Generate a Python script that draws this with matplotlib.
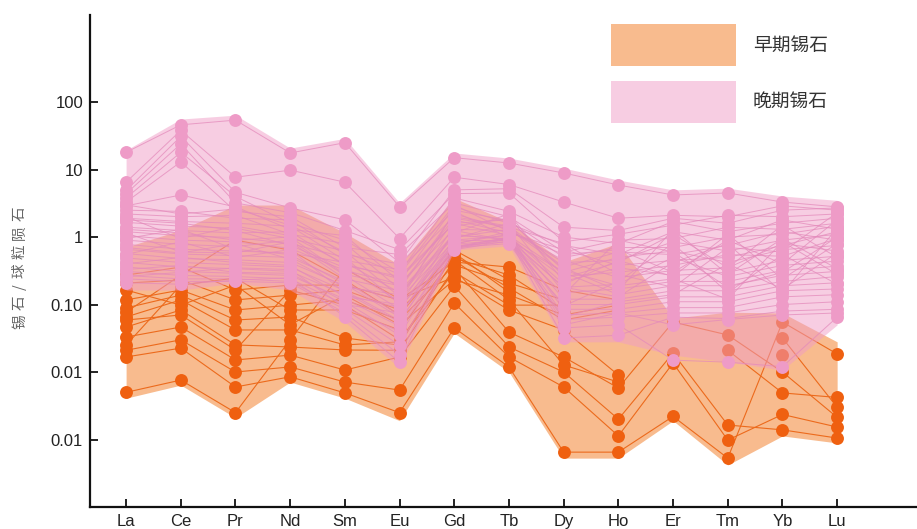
import numpy as np
import matplotlib
matplotlib.use("Agg")
import matplotlib.pyplot as plt
from matplotlib.patches import Rectangle

plt.rcParams['font.family'] = ['Liberation Sans', 'Noto Sans CJK SC', 'DejaVu Sans']

# ---- data -------------------------------------------------------------
elements = ["La", "Ce", "Pr", "Nd", "Sm", "Eu", "Gd", "Tb", "Dy", "Ho",
            "Er", "Tm", "Yb", "Lu"]
y_ticks = [100, 10, 1, 0.1, 0.01, 0.001]
y_tick_labels = ["100", "10", "1", "0.10", "0.01", "0.01"]
legend_labels = ["早期锡石", "晚期锡石"]
y_label = "锡石/球粒陨石"

nan = np.nan
# early cassiterite, chondrite-normalised REE (one row per sample)
early = [
    [0.005, 0.0076, 0.0025, 0.030, 0.34, 0.12, 0.255, 0.083, 0.042, 0.009, nan, 0.021, 0.0049, 0.0042],
    [0.0167, 0.0226, 0.0060, 0.0085, 0.0049, 0.0025, 0.045, 0.0119, 0.00065, 0.00065, 0.0022, 0.00053, 0.055, 0.0185],
    [0.021, 0.030, 0.0100, 0.0119, 0.0071, 0.0054, 0.105, 0.0167, 0.0060, 0.00113, 0.0136, 0.00098, 0.00235, 0.00153],
    [0.033, 0.0464, 0.0151, 0.0178, 0.0107, 0.0167, 0.188, 0.0235, 0.0100, 0.0020, 0.0191, 0.00164, 0.00139, 0.00105],
    [0.0464, 0.083, 0.0252, 0.0235, 0.0212, 0.021, 0.347, 0.039, 0.0167, 0.0058, 0.055, 0.0354, 0.0100, 0.00213],
    [0.0654, 0.117, 0.042, 0.042, 0.0252, 0.028, 0.456, 0.117, 0.0127, 0.0071, nan, nan, 0.032, 0.0030],
    [0.089, 0.138, 0.059, 0.0654, 0.032, 0.025, 0.579, 0.153, nan, nan, nan, nan, 0.0178, nan],
    [0.117, 0.164, 0.083, 0.098, 0.117, 0.059, 0.385, 0.208, 0.117, nan, nan, nan, nan, nan],
    [0.208, 0.231, 0.117, 0.138, 0.164, 0.083, 0.489, 0.273, 0.083, nan, nan, nan, nan, nan],
    [0.273, 0.359, 0.164, 0.194, 0.194, 0.117, 0.426, 0.359, 0.164, 0.117, nan, nan, nan, nan],
    [0.025, 0.194, 0.247, 0.083, 0.083, 0.042, 0.523, 0.176, 0.059, 0.083, nan, nan, nan, nan],
    [0.059, 0.070, 0.0212, 0.164, 0.098, 0.030, 0.303, 0.098, 0.098, nan, nan, nan, nan, nan],
    [0.164, 0.098, 0.194, 0.050, 0.138, 0.050, 0.231, 0.138, 0.070, 0.098, nan, nan, nan, nan],
    [0.077, 0.273, 0.90, 0.64, 0.231, 0.070, 0.642, 0.231, nan, nan, nan, nan, nan, nan],
]

# late cassiterite
late = [
    [18, 46, 54, 17.6, 25, 2.8, 15, 12.5, 8.9, 5.9, 4.2, 4.5, 3.3, 2.8],
    [6.5, 38, 7.7, 9.8, 6.5, 0.95, 7.7, 6.0, 3.3, 1.9, 2.1, 2.0, 2.9, 2.5],
    [4.9, 31, 4.6, 2.7, 1.8, 0.42, 5.0, 5.2, 1.4, 1.25, 1.9, 1.6, 2.5, 2.7],
    [4.4, 24, 3.2, 2.3, 1.25, 0.65, 4.4, 4.5, 0.85, 1.1, 1.5, 2.1, 2.0, 2.2],
    [3.8, 18, 4.0, 1.6, 0.9, 0.3, 3.8, 2.4, 1.0, 0.8, 1.7, 1.2, 1.6, 1.9],
    [3.3, 13, 2.4, 2.0, 0.7, 0.55, 3.2, 2.0, 0.6, 0.9, 0.95, 1.4, 1.3, 1.6],
    [2.9, 4.2, 2.8, 1.3, 1.05, 0.22, 2.8, 1.6, 0.75, 0.55, 1.2, 0.9, 1.8, 1.3],
    [2.5, 2.4, 1.9, 1.8, 0.55, 0.4, 2.5, 1.75, 0.5, 0.7, 0.7, 1.0, 1.1, 1.45],
    [2.2, 2.0, 2.1, 1.1, 0.8, 0.17, 2.2, 1.3, 0.42, 0.45, 0.85, 0.62, 0.9, 1.1],
    [1.9, 1.7, 1.6, 1.45, 0.45, 0.33, 2.0, 1.45, 0.36, 0.6, 0.55, 0.75, 1.2, 0.9],
    [1.65, 1.45, 1.35, 0.95, 0.62, 0.13, 1.8, 1.15, 0.65, 0.38, 0.45, 0.5, 0.75, 1.2],
    [1.4, 1.25, 1.15, 1.2, 0.38, 0.26, 1.6, 1.05, 0.3, 0.5, 0.62, 0.42, 0.65, 0.75],
    [1.2, 1.05, 0.98, 0.8, 0.5, 0.1, 1.45, 1.9, 0.26, 0.3, 0.38, 0.55, 0.52, 0.95],
    [1.05, 0.9, 0.85, 0.68, 0.32, 0.2, 1.3, 1.25, 0.45, 0.25, 0.32, 0.35, 0.8, 0.62],
    [0.9, 0.78, 0.72, 0.9, 0.27, 0.085, 1.15, 2.2, 0.22, 0.35, 0.27, 0.3, 0.45, 0.52],
    [0.78, 0.66, 0.62, 0.58, 0.42, 0.15, 1.05, 0.95, 0.18, 0.2, 0.5, 0.26, 0.38, 0.44],
    [0.66, 0.56, 0.53, 0.5, 0.22, 0.07, 0.95, 1.6, 0.15, 0.17, 0.22, 0.22, 0.32, 0.37],
    [0.57, 0.48, 0.46, 0.42, 0.19, 0.12, 0.88, 0.9, 0.3, 0.14, 0.19, 0.19, 0.27, 0.31],
    [0.49, 0.42, 0.39, 0.36, 0.16, 0.058, 0.8, 1.1, 0.12, 0.12, 0.16, 0.16, 0.22, 0.26],
    [0.42, 0.36, 0.34, 0.31, 0.14, 0.09, 0.74, 0.85, 0.1, 0.1, 0.13, 0.13, 0.19, 0.21],
    [0.36, 0.31, 0.29, 0.27, 0.12, 0.048, 0.7, 1.0, 0.085, 0.085, 0.11, 0.11, 0.16, 0.17],
    [0.31, 0.27, 0.26, 0.24, 0.1, 0.075, 0.67, 0.95, 0.07, 0.075, 0.09, 0.09, 0.13, 0.14],
    [0.27, 0.24, 0.24, 0.22, 0.085, 0.025, 0.65, 0.88, 0.06, 0.065, 0.075, 0.075, 0.1, 0.11],
    [0.24, 0.22, 0.22, 0.21, 0.075, 0.018, 0.7, 0.92, 0.032, 0.035, 0.065, 0.062, 0.08, 0.085],
    [0.21, 0.2, 0.23, 0.25, 0.066, 0.014, 0.72, 0.98, 0.045, 0.05, 0.015, 0.014, 0.012, 0.065],
    [0.26, 0.3, 0.35, 0.33, 0.09, 0.04, 0.78, 1.2, 0.05, 0.075, 0.05, 0.06, 0.07, 0.075],
    [3.0, 2.2, 2.6, 1.5, 0.6, 0.28, 3.0, 1.2, 0.55, 0.65, 0.3, 0.9, 0.4, 1.8],
    [1.8, 1.6, 1.25, 0.75, 0.35, 0.11, 2.4, 0.98, 0.25, 0.42, 1.1, 0.35, 1.5, 0.5],
    [1.3, 1.15, 0.9, 1.0, 0.28, 0.19, 1.9, 1.4, 0.8, 0.28, 0.18, 0.7, 0.6, 2.3],
    [0.95, 1.3, 0.66, 0.55, 0.2, 0.065, 1.25, 0.88, 0.14, 0.9, 0.6, 0.18, 0.3, 1.0],
    [0.7, 0.58, 0.8, 0.47, 0.18, 0.14, 1.0, 1.3, 0.35, 0.16, 1.3, 0.28, 0.95, 0.34],
    [0.55, 0.85, 0.5, 0.65, 0.15, 0.055, 0.9, 1.05, 0.2, 0.45, 0.26, 1.1, 0.24, 0.8],
    [0.4, 0.5, 0.42, 0.38, 0.13, 0.1, 0.78, 0.92, 0.095, 0.22, 0.8, 0.15, 0.55, 0.2],
    [0.33, 0.38, 0.3, 0.29, 0.11, 0.035, 0.7, 0.8, 0.065, 0.11, 0.14, 0.4, 0.17, 0.58],
    [2.0, 0.95, 1.45, 1.05, 0.4, 0.24, 1.6, 1.8, 0.32, 0.19, 0.24, 0.12, 0.85, 0.28],
    [1.15, 0.6, 0.58, 0.85, 0.24, 0.16, 1.1, 0.9, 0.18, 0.13, 0.42, 0.8, 0.15, 1.35],
]

# field envelopes
early_upper = [0.71, 1.27, 2.98, 2.98, 1.15, 0.385, 3.78, 1.67, 0.426, 0.815, 0.063, 0.077, 0.075, 0.028]
early_lower = [0.0041, 0.0064, 0.0021, 0.0071, 0.0041, 0.0019, 0.0378, 0.0100, 0.00053, 0.00053, 0.0019, 0.00042, 0.00113, 0.00089]
late_upper = [19.4, 56, 64, 20.8, 29, 3.2, 17.6, 14.8, 10.5, 7.0, 5.0, 5.3, 4.05, 3.5]
late_lower = [0.164, 0.164, 0.208, 0.164, 0.055, 0.0115, 0.64, 0.74, 0.028, 0.028, 0.0178, 0.0141, 0.0107, 0.05]

# ---- colours ----------------------------------------------------------
early_fill = "#f8bb8e"
early_line = "#ec6a1c"
early_dot = "#ef6010"
late_fill = "#f09cc6"
late_line = "#e48abb"
late_dot = "#ee9bc7"

W, H = 917, 529
fig = plt.figure(figsize=(W / 100, H / 100), dpi=100)
ax = fig.add_axes([90 / W, 22 / H, 827 / W, 492 / H])
ax.set_yscale("log")

x = np.arange(len(elements))

ax.fill_between(x, early_lower, early_upper, color=early_fill, lw=0, zorder=1)
for s in early:
    ax.plot(x, s, color=early_line, lw=0.8, zorder=2)
for s in early:
    ax.plot(x, s, "o", ms=9.3, color=early_dot, mec="none", zorder=3)

ax.fill_between(x, late_lower, late_upper, color=late_fill, alpha=0.5, lw=0, zorder=4)
for s in late:
    ax.plot(x, s, color=late_line, lw=0.7, alpha=0.75, zorder=5)
for s in late:
    ax.plot(x, s, "o", ms=9.3, color=late_dot, mec="none", zorder=6)

ax.set_xlim(-0.66, 14.46)
ax.set_ylim(1e-4, 1950)
ax.set_xticks(x)
ax.set_xticklabels(elements)
ax.set_yticks(y_ticks)
ax.set_yticklabels(y_tick_labels)
ax.minorticks_off()

for side in ("top", "right"):
    ax.spines[side].set_visible(False)
for side in ("left", "bottom"):
    ax.spines[side].set_linewidth(1.6)
    ax.spines[side].set_color("#111111")
ax.tick_params(direction="in", length=5.5, width=1.3, labelsize=12,
               colors="#111111", labelcolor="#222222", pad=5)

# legend boxes
boxes = [((611, 24), early_fill), ((611, 81), late_fill)]
for ((bx, by), col), lab in zip(boxes, legend_labels):
    alpha = 1.0 if col == early_fill else 0.5
    fig.add_artist(Rectangle((bx / W, 1 - (by + 42) / H), 125 / W, 42 / H,
                             transform=fig.transFigure, facecolor=col,
                             alpha=alpha, edgecolor="none"))
    fig.text(753 / W, 1 - (by + 21) / H, lab, fontsize=13.5, color="#333333",
             va="center", ha="left", family=["Noto Sans CJK SC", "DejaVu Sans"])

# rotated axis title, characters spread along the axis (bottom to top)
char_y = [322, 303, 287, 271, 252, 233, 214]
for ch, cy in zip(y_label, char_y):
    fig.text(20 / W, 1 - cy / H, ch, rotation=90, fontsize=10.5, color="#666666",
             va="center", ha="center", family=["Noto Sans CJK SC", "DejaVu Sans"])

fig.savefig("out.png", dpi=100)
